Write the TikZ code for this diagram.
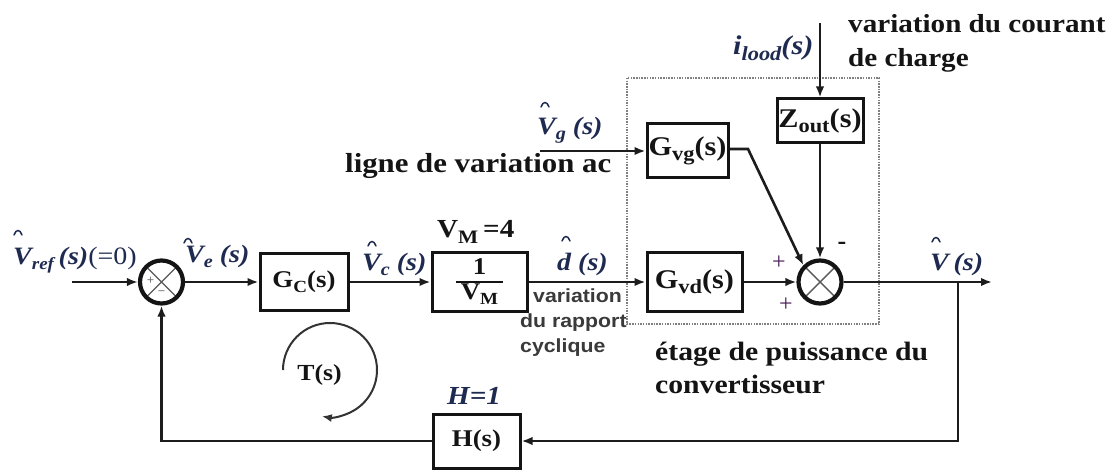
\documentclass[tikz,border=0pt]{standalone}
\usepackage{fontspec}
\setmainfont{Liberation Serif}
\setsansfont{Liberation Sans}
\usepackage{graphicx}
\usetikzlibrary{arrows.meta}
\definecolor{ink}{HTML}{1C1C1C}
\definecolor{mathink}{HTML}{1E2A50}
\definecolor{boxink}{HTML}{141414}
\definecolor{sansink}{HTML}{3A3A3A}
\definecolor{plusink}{HTML}{4B1D57}
\definecolor{dashink}{HTML}{808080}
\newcommand{\sx}[1]{\scalebox{1.12}[1]{#1}}
\newcommand{\fs}[1]{\fontsize{#1}{#1}\selectfont}
\newcommand{\sbs}[2]{\raisebox{-0.2em}{\fontsize{#1}{#1}\selectfont #2}}
\begin{document}
\begin{tikzpicture}[x=1pt,y=-1pt,
  wire/.style={draw=ink, line width=2.6pt},
  arr/.style={wire, -{Latex[length=11pt,width=8.5pt]}},
  blk/.style={draw=boxink, line width=3pt, fill=white, inner sep=0pt, text=boxink},
  sumnode/.style={circle, draw=boxink, line width=4.2pt, minimum size=43pt, inner sep=0pt,
    path picture={\draw[line width=1.4pt, black!65]
      (path picture bounding box.north west) -- (path picture bounding box.south east)
      (path picture bounding box.north east) -- (path picture bounding box.south west);}},
  txt/.style={inner sep=0pt, anchor=base west},
  hatst/.style={draw=mathink, line width=1.5pt, line cap=round},
  dashbox/.style={draw=dashink, line width=1.8pt, dash pattern=on 1.5pt off 1.2pt},
  tarc/.style={draw=ink!90, line width=2pt, -{Latex[length=10pt,width=8pt]}}
]
\fill[white] (0,0) rectangle (1118,470);
\useasboundingbox (0,0) rectangle (1118,470);

% power stage frame
\draw[dashbox] (627,78) rectangle (879,324);

% blocks
\node[sumnode] (s1) at (161.5,282) {};
\node[blk, minimum width=88pt, minimum height=57pt] (gc) at (304,282) {\sx{\fs{24}\bfseries G\sbs{17}{C}(s)}};
\node[blk, minimum width=95pt, minimum height=58pt] (vm) at (479.5,282) {\sx{\fs{24}\bfseries\setlength{\arrayrulewidth}{1.6pt}\begin{tabular}{@{\hspace{4pt}}c@{\hspace{4pt}}}1\\\hline V\sbs{17}{M}\end{tabular}}};
\node[blk, minimum width=95pt, minimum height=58pt] (gvd) at (694.5,282) {\sx{\fs{27}\bfseries G\sbs{20}{vd}(s)}};
\node[blk, minimum width=81pt, minimum height=54pt] (gvg) at (687.5,151) {\sx{\fs{27}\bfseries G\sbs{20}{vg}(s)}};
\node[blk, minimum width=86pt, minimum height=44pt] (zout) at (820,121) {\sx{\fs{27}\bfseries Z\sbs{20}{out}(s)}};
\node[sumnode] (s2) at (820,282) {};
\node[blk, minimum width=87pt, minimum height=54pt] (h) at (476.5,441) {\sx{\fs{24}\bfseries H(s)}};

% free ends
\coordinate (in) at (72,282);
\coordinate (vgin) at (540,151);
\coordinate (ilin) at (820,23);
\coordinate (out) at (992,282);
\coordinate (br) at (958,282);
\coordinate (gvgk) at (748,149);

% connectors
\draw[arr] (in) -- (s1);
\draw[arr] (s1) -- (gc);
\draw[arr] (gc) -- (vm);
\draw[arr] (vm) -- (gvd);
\draw[arr] (gvd) -- (s2);
\draw[arr] (vgin) -- (gvg);
\draw[arr] (gvg.east |- gvgk) -- (gvgk) -- (s2.135);
\draw[arr] (ilin) -- (zout);
\draw[arr] (zout) -- (s2);
\draw[arr] (s2) -- (out);
\draw[arr] (br) |- (h);
\draw[arr] (h) -| (s1);

% signs
\node[inner sep=0pt, text=black!55] (s1p) at (150.5,281) {\fs{13}\bfseries +};
\node[inner sep=0pt, text=black!55] (s1m) at (161.5,293) {\fs{13}\bfseries −};
\node[inner sep=0pt, text=plusink] (p1) at (779,263) {\fs{24}+};
\node[inner sep=0pt, text=plusink] (p2) at (786,305) {\fs{24}+};
\node[inner sep=0pt, text=boxink] (m1) at (842,246) {\fs{26}\bfseries -};

% signal labels
\node[txt, text=mathink] (lref) at (13,265) {\sx{\fs{25}\bfseries\itshape V\sbs{17}{ref}\,(s)\mdseries\upshape(=0)}};
\node[txt, text=mathink] (lve) at (185,262) {\sx{\fs{25}\bfseries\itshape V\sbs{18}{e}\ (s)}};
\node[txt, text=mathink] (lvc) at (362,270) {\sx{\fs{25}\bfseries\itshape V\sbs{18}{c}\ (s)}};
\node[txt, text=mathink] (ld) at (557,270) {\sx{\fs{25}\bfseries\itshape d\ (s)}};
\node[txt, text=mathink] (lvg) at (537,135) {\sx{\fs{25}\bfseries\itshape V\sbs{18}{g}\ (s)}};
\node[txt, text=mathink] (lv) at (930,270) {\sx{\fs{25}\bfseries\itshape V\,(s)}};
\node[txt, text=mathink] (lil) at (733,55) {\sx{\fs{27}\bfseries\itshape i\sbs{20}{lood}(s)}};

% hats
\draw[hatst, shift={(18,232)}] (-4,3) .. controls (-2,-3) and (2,-3) .. (4,3);
\draw[hatst, shift={(188,240)}] (-4,3) .. controls (-2,-3) and (2,-3) .. (4,3);
\draw[hatst, shift={(372,243)}] (-4,3) .. controls (-2,-3) and (2,-3) .. (4,3);
\draw[hatst, shift={(566,238)}] (-4,3) .. controls (-2,-3) and (2,-3) .. (4,3);
\draw[hatst, shift={(545,104)}] (-4,3) .. controls (-2,-3) and (2,-3) .. (4,3);
\draw[hatst, shift={(936,239)}] (-4,3) .. controls (-2,-3) and (2,-3) .. (4,3);

% parameter labels
\node[txt, text=boxink] (lvm4) at (437,238) {\sx{\fs{26}\bfseries V\sbs{19}{M}\,=4}};
\node[inner sep=0pt, text=mathink] (lh1) at (474,396) {\sx{\fs{26}\bfseries\itshape H=1}};
\node[inner sep=0pt, text=boxink] (lt) at (319.5,375) {\sx{\fs{23}\bfseries T(s)}};

% loop gain arc
\draw[tarc] (283,370) arc[start angle=180, end angle=460, radius=47];

% annotations
\node[txt, text=boxink] (lac) at (345,173) {\sx{\fs{27.5}\bfseries ligne de variation ac}};
\node[txt, text=boxink] (lch1) at (848,33) {\sx{\fs{26}\bfseries variation du courant}};
\node[txt, text=boxink] (lch2) at (848,67) {\sx{\fs{26}\bfseries de charge}};
\node[txt, text=boxink] (lst1) at (655,360) {\sx{\fs{26.5}\bfseries étage de puissance du}};
\node[txt, text=boxink] (lst2) at (655,393) {\sx{\fs{26.5}\bfseries convertisseur}};
\node[txt, text=sansink] (lr1) at (533,302) {\sx{\fs{19}\sffamily\bfseries variation}};
\node[txt, text=sansink] (lr2) at (520,327) {\sx{\fs{19}\sffamily\bfseries du rapport}};
\node[txt, text=sansink] (lr3) at (520,352) {\sx{\fs{19}\sffamily\bfseries cyclique}};
\end{tikzpicture}
\end{document}
